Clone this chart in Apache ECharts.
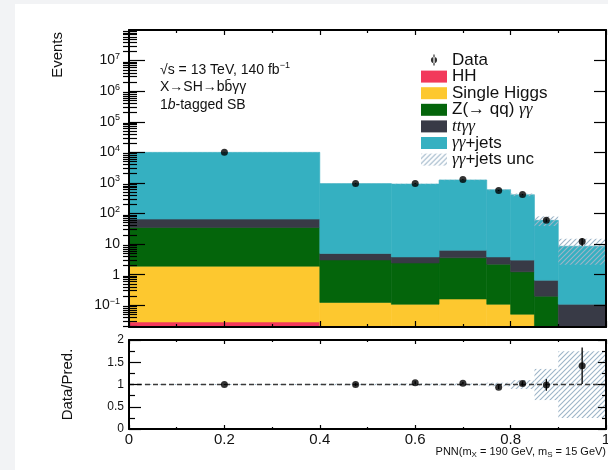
<!DOCTYPE html>
<html>
<head>
<meta charset="utf-8">
<script src="https://cdn.jsdelivr.net/npm/echarts@6/dist/echarts.min.js"></script>
<style>
html,body{margin:0;padding:0;background:#fff;}
#chart{width:608px;height:470px;}
</style>
</head>
<body>
<div id="chart"></div>
<script>
// ---------------- data ----------------
const binEdges    = [0, 0.4, 0.55, 0.65, 0.75, 0.8, 0.85, 0.9, 1.0];
const binCenters  = [0.2, 0.475, 0.6, 0.7, 0.775, 0.825, 0.875, 0.95];
const hh          = [0.0285, 0.004, 0.004, 0.004, 0.003, 0.002, 0.001, 0.001];
const singleHiggs = [1.87, 0.12, 0.104, 0.157, 0.105, 0.049, 0.011, 0.005];
const zqqgg       = [33, 2.9, 2.3, 3.4, 2.1, 1.19, 0.186, 0.006];
const ttgg        = [31, 1.9, 1.4, 2.75, 1.6, 1.76, 0.46, 0.096];
const ggjets      = [9930, 945, 915, 1245, 596, 407, 59.3, 8.4];
const ggjetsUncRel= [0.01, 0.015, 0.02, 0.02, 0.04, 0.1, 0.35, 0.75];
const dataYield   = [10000, 950, 955, 1290, 565, 418, 60, 12.1];
const dataErr     = [100, 31, 31, 36, 24, 20, 7.7, 3.5];
const ratio       = [1.0, 1.0, 1.04, 1.03, 0.94, 1.02, 0.99, 1.42];
const ratioErr    = [0.01, 0.032, 0.032, 0.028, 0.041, 0.049, 0.13, 0.41];
const yMajorTicks = [0.1, 1, 10, 100, 1e3, 1e4, 1e5, 1e6, 1e7];
const ratioTicks  = [0, 0.5, 1, 1.5, 2];
const xTicks      = [0, 0.2, 0.4, 0.6, 0.8, 1];

const Y_MIN = 0.0195, Y_MAX = 1e8;
const FONT = '"Liberation Sans", Arial, Helvetica, sans-serif';
const SERIF = '"Liberation Serif", "DejaVu Serif", serif';

// minor log ticks (2..9 per decade)
const yMinorTicks = [];
for (let e = -2; e <= 7; e++) for (let k = 2; k <= 9; k++) {
  const v = k * Math.pow(10, e);
  if (v > Y_MIN && v < Y_MAX) yMinorTicks.push(v);
}

function hatch(color) {
  const c = document.createElement('canvas');
  c.width = 5; c.height = 5;
  const g = c.getContext('2d');
  g.strokeStyle = color; g.lineWidth = 1.1;
  g.beginPath();
  g.moveTo(0, 5); g.lineTo(5, 0);
  g.moveTo(-1, 1); g.lineTo(1, -1);
  g.moveTo(4, 6); g.lineTo(6, 4);
  g.stroke();
  return { image: c, repeat: 'repeat' };
}
const HATCH = hatch('#9db5c8');

function makeRender(withStroke, yMin) {
  return function (params, api) {
    const lo = Math.max(api.value(2), yMin), hi = api.value(3);
    if (!(hi > yMin)) return null;
    const a = api.coord([api.value(0), hi]);
    const b = api.coord([api.value(1), lo]);
    const st = api.style();
    if (withStroke) { st.stroke = st.fill; st.lineWidth = 0.6; } else { st.stroke = null; }
    return { type: 'rect', shape: { x: a[0], y: a[1], width: b[0] - a[0], height: b[1] - a[1] }, style: st };
  };
}
function renderErr(yMin) {
  return function (params, api) {
    const x = api.value(0), y = api.value(1), e = api.value(2);
    const p1 = api.coord([x, Math.max(y - e, yMin)]);
    const p2 = api.coord([x, y + e]);
    return { type: 'line', shape: { x1: p1[0], y1: p1[1], x2: p2[0], y2: p2[1] }, style: { stroke: '#000', lineWidth: 1.3 } };
  };
}

// ---------------- build stacked histogram ----------------
const components = [
  { name: 'HH', values: hh, color: '#f2395b' },
  { name: 'Single Higgs', values: singleHiggs, color: '#fdc82f' },
  { name: 'Z(→ qq) γγ', values: zqqgg, color: '#04650b' },
  { name: 'ttγγ', values: ttgg, color: '#383a46' },
  { name: 'γγ+jets', values: ggjets, color: '#35b0c1' }
];
const cum = binCenters.map(() => 0);
const stackSeries = components.map(c => {
  const data = c.values.map((v, i) => {
    const lo = cum[i]; cum[i] += v;
    return [binEdges[i], binEdges[i + 1], lo, cum[i]];
  });
  return {
    type: 'custom', name: c.name, xAxisIndex: 0, yAxisIndex: 0, z: 2,
    renderItem: makeRender(true, Y_MIN), itemStyle: { color: c.color },
    encode: { x: [0, 1], y: [3] }, data: data, silent: true
  };
});
const total = cum.slice();

const uncMain = total.map((t, i) => [binEdges[i], binEdges[i + 1], t * (1 - ggjetsUncRel[i]), t * (1 + ggjetsUncRel[i])]);
const uncRatio = ggjetsUncRel.map((u, i) => [binEdges[i], binEdges[i + 1], 1 - u, 1 + u]);

const axisLineStyle = { show: true, onZero: false, lineStyle: { color: '#000', width: 2 } };
const noLabel = { show: false };

function xAxisCfg(grid, pos, labels, tickLen, minorLen) {
  return {
    type: 'value', gridIndex: grid, position: pos, min: 0, max: 1, interval: 0.2, z: 10,
    axisLine: axisLineStyle,
    axisTick: { show: true, inside: true, length: tickLen, lineStyle: { color: '#000', width: 1.2 } },
    minorTick: { show: true, splitNumber: 2, length: minorLen, lineStyle: { color: '#000', width: 1.2 } },
    splitLine: { show: false }, minorSplitLine: { show: false },
    axisLabel: labels ? {
      show: true, fontSize: 15, fontFamily: FONT, color: '#111', margin: 3,
      customValues: xTicks, formatter: v => String(+v.toFixed(1))
    } : noLabel
  };
}
function logAxis(pos, ticks, len, label, lineShow) {
  return {
    type: 'log', gridIndex: 0, position: pos, min: Y_MIN, max: Y_MAX, z: 10,
    axisLine: lineShow ? axisLineStyle : { show: false },
    axisTick: { show: true, inside: true, length: len, customValues: ticks, lineStyle: { color: '#000', width: 1.2 } },
    splitLine: { show: false },
    axisLabel: label ? {
      show: true, customValues: yMajorTicks, margin: 9, fontFamily: FONT, color: '#111', fontSize: 14,
      formatter: v => {
        const e = Math.round(Math.log10(v));
        if (e === 0) return '1';
        if (e === 1) return '10';
        return '{b|10}{s|' + (e < 0 ? '−' : '') + Math.abs(e) + '}';
      },
      rich: {
        b: { fontSize: 14, fontFamily: FONT, color: '#111' },
        s: { fontSize: 9, fontFamily: FONT, color: '#111', padding: [0, 0, 8, 0] }
      }
    } : noLabel
  };
}
function ratioAxis(pos, len, minorLen, label) {
  return {
    type: 'value', gridIndex: 1, position: pos, min: 0, max: 2, interval: 0.5, z: 10,
    axisLine: axisLineStyle,
    axisTick: { show: true, inside: true, length: len, lineStyle: { color: '#000', width: 1.2 } },
    minorTick: { show: true, splitNumber: 2, length: minorLen, lineStyle: { color: '#000', width: 1.2 } },
    splitLine: { show: false }, minorSplitLine: { show: false },
    axisLabel: label ? { show: true, fontSize: 12, fontFamily: FONT, color: '#111', margin: 5, customValues: ratioTicks } : noLabel
  };
}

const yAxes = [
  Object.assign(logAxis('left', yMajorTicks, 16, true, true), {
    name: 'Events', nameLocation: 'end', nameGap: -2, nameRotate: 90, nameMoveOverlap: false,
    nameTextStyle: { fontSize: 15, fontFamily: FONT, color: '#111', align: 'right', verticalAlign: 'bottom', lineHeight: 15, padding: [0, 0, 64, 0] }
  }),
  logAxis('left', yMinorTicks, 8, false, false),
  logAxis('right', yMajorTicks, 12, false, true),
  logAxis('right', yMinorTicks, 6, false, false),
  Object.assign(ratioAxis('left', 12, 6, true), {
    name: 'Data/Pred.', nameLocation: 'middle', nameGap: 0, nameRotate: 90, nameMoveOverlap: false,
    nameTextStyle: { fontSize: 15, fontFamily: FONT, color: '#111', align: 'center', verticalAlign: 'bottom', lineHeight: 15, padding: [0, 0, 54, 0] }
  }),
  ratioAxis('right', 8, 4, false)
];

const xAxes = [
  xAxisCfg(0, 'bottom', false, 6, 3),
  xAxisCfg(0, 'top', false, 5, 3),
  Object.assign(xAxisCfg(1, 'bottom', true, 4, 2), {
    name: 'PNN(m{sub|X} = 190 GeV, m{sub|S} = 15 GeV)', nameLocation: 'end', nameGap: 0, nameMoveOverlap: false,
    nameTextStyle: {
      fontSize: 11, fontFamily: FONT, color: '#111', align: 'right', verticalAlign: 'top', padding: [16, 0, 0, 0],
      rich: { sub: { fontSize: 8, fontFamily: FONT, color: '#111', verticalAlign: 'bottom', padding: [6, 0, 0, 0] } }
    }
  }),
  xAxisCfg(1, 'top', false, 4, 2)
];

const LEG_LH = 12;
const legendRich = {
  t: { fontSize: 17, fontFamily: FONT, color: '#111', lineHeight: LEG_LH },
  g: { fontStyle: 'italic', fontFamily: SERIF, fontSize: 17, color: '#111', lineHeight: LEG_LH }
};
const legendLabel = {
  'Z(→ qq) γγ': '{t|Z(→ qq) }{g|γγ}',
  'ttγγ': '{g|ttγγ}',
  'γγ+jets': '{g|γγ}{t|+jets}',
  'γγ+jets unc': '{g|γγ}{t|+jets unc}'
};

const option = {
  animation: false,
  backgroundColor: '#fff',
  grid: [
    { left: 129, right: 2, top: 30, height: 297, outerBoundsMode: 'none', containLabel: false },
    { left: 129, right: 2, top: 340, height: 89, outerBoundsMode: 'none', containLabel: false }
  ],
  xAxis: xAxes,
  yAxis: yAxes,
  legend: {
    orient: 'vertical', left: 421, top: 51.5, padding: 0, itemGap: -0.4,
    itemWidth: 26, itemHeight: 12, selectedMode: false,
    textStyle: { fontSize: 17, fontFamily: FONT, color: '#111', lineHeight: LEG_LH, rich: legendRich },
    formatter: name => legendLabel[name] || ('{t|' + name + '}'),
    data: [
      { name: 'Data', icon: 'path://M0,0h0.05v0.05h-0.05z M25.95,10.95h0.05v0.05h-0.05z M12.4,0h1.2v11h-1.2z M13,2.4a3.1,3.1 0 1,0 0.001,0z' },
      { name: 'HH', icon: 'rect' },
      { name: 'Single Higgs', icon: 'rect' },
      { name: 'Z(→ qq) γγ', icon: 'rect' },
      { name: 'ttγγ', icon: 'rect' },
      { name: 'γγ+jets', icon: 'rect' },
      { name: 'γγ+jets unc', icon: 'rect' }
    ]
  },
  graphic: [
    { type: 'rect', left: 0, top: 0, shape: { width: 15, height: 470 }, style: { fill: '#f2f3f5' }, silent: true },
    { type: 'rect', left: 15, top: 0, shape: { width: 593, height: 4 }, style: { fill: '#f2f3f5' }, silent: true },
    { type: 'text', x: 160, y: 70, style: {
      text: '√s = 13 TeV, 140 fb{sup|−1}', font: '14px ' + FONT, fill: '#111', verticalAlign: 'middle',
      rich: { sup: { fontSize: 9, fontFamily: FONT, fill: '#111', padding: [0, 0, 8, 0] } } } },
    { type: 'text', x: 160, y: 87.5, style: {
      text: 'X→SH→bb̄γγ', font: '14px ' + FONT, fill: '#111', verticalAlign: 'middle' } },
    { type: 'text', x: 160, y: 105, style: {
      text: '1{i|b}-tagged SB', font: '14px ' + FONT, fill: '#111', verticalAlign: 'middle',
      rich: { i: { fontStyle: 'italic', fontSize: 14, fontFamily: FONT, fill: '#111' } } } }
  ],
  series: [].concat(stackSeries, [
    {
      type: 'custom', name: 'γγ+jets unc', xAxisIndex: 0, yAxisIndex: 0, z: 3, silent: true,
      renderItem: makeRender(false, Y_MIN), itemStyle: { color: HATCH },
      encode: { x: [0, 1], y: [3] }, data: uncMain
    },
    {
      type: 'custom', name: 'Data err', xAxisIndex: 0, yAxisIndex: 0, z: 4, silent: true,
      renderItem: renderErr(Y_MIN), encode: { x: 0, y: 1 },
      data: binCenters.map((x, i) => [x, dataYield[i], dataErr[i]])
    },
    {
      type: 'scatter', name: 'Data', xAxisIndex: 0, yAxisIndex: 0, z: 5, silent: true,
      symbol: 'circle', symbolSize: 7, itemStyle: { color: '#000' },
      data: binCenters.map((x, i) => [x, dataYield[i]])
    },
    // ratio panel
    {
      type: 'custom', name: 'Ratio unc', xAxisIndex: 2, yAxisIndex: 4, z: 3, silent: true,
      renderItem: makeRender(false, 0), itemStyle: { color: HATCH },
      encode: { x: [0, 1], y: [3] }, data: uncRatio
    },
    {
      type: 'line', name: 'Unity', xAxisIndex: 2, yAxisIndex: 4, z: 4, silent: true,
      symbol: 'none', lineStyle: { color: '#3a3a3a', width: 1.5, type: [5, 3] },
      data: [[0, 1], [1, 1]]
    },
    {
      type: 'custom', name: 'Ratio err', xAxisIndex: 2, yAxisIndex: 4, z: 5, silent: true,
      renderItem: renderErr(0), encode: { x: 0, y: 1 },
      data: binCenters.map((x, i) => [x, ratio[i], ratioErr[i]])
    },
    {
      type: 'scatter', name: 'Ratio', xAxisIndex: 2, yAxisIndex: 4, z: 6, silent: true,
      symbol: 'circle', symbolSize: 7, itemStyle: { color: '#000' },
      data: binCenters.map((x, i) => [x, ratio[i]])
    }
  ])
};

const chart = echarts.init(document.getElementById('chart'), null, { renderer: 'canvas' });
chart.setOption(option);
</script>
</body>
</html>
